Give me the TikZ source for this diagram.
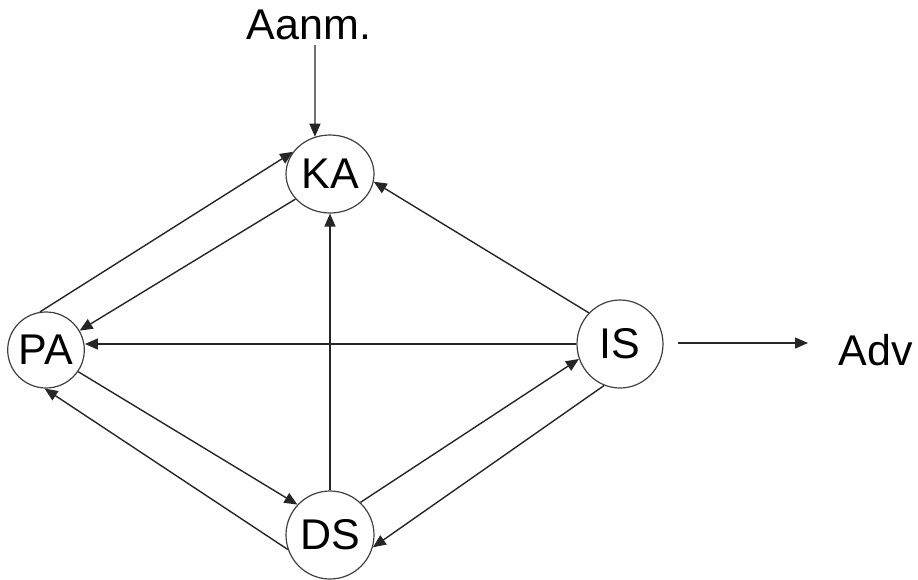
\documentclass[tikz,border=0pt]{standalone}
\usepackage{fontspec}
\setmainfont{Liberation Sans}
\usetikzlibrary{shapes.geometric,arrows.meta}
\begin{document}
\begin{tikzpicture}[x=1pt,y=-1pt,
  state/.style={draw=black!75, line width=1.2pt, ellipse, inner sep=0pt,
                font=\fontsize{43}{50}\selectfont},
  tag/.style={inner sep=0pt, font=\fontsize{43}{50}\selectfont},
  flow/.style={-{Triangle[length=13pt,width=11pt]}, line width=1.4pt, draw=black!85}]
\useasboundingbox (0,0) rectangle (918,579);

% states
\node[state, minimum width=88pt, minimum height=78pt] (KA) at (330,174) {KA};
\node[state, minimum width=74pt, minimum height=76pt] (PA) at (46,350) {PA};
\node[state, minimum width=86pt, minimum height=88pt] (IS) at (620,344) {IS};
\node[state, minimum width=88pt, minimum height=88pt] (DS) at (330,535) {DS};

% external labels
\node[tag] (aanm) at (309,25) {Aanm.};
\node[tag] (adv) at (876,350) {Adv};
\coordinate (in) at (315,45);
\coordinate (out0) at (678,343);
\coordinate (out1) at (808,343);

% transitions
\draw[flow] (in) -- (KA.112);
\draw[flow] (PA.99) -- (KA.149);
\draw[flow] (KA.216) -- (PA.30);
\draw[flow] (IS.west) -- (PA.east |- IS.west);
\draw[flow] (PA.-34) -- (DS.137);
\draw[flow] (DS.199) -- (PA.268);
\draw[flow] (DS.north) -- (KA.south);
\draw[flow] (IS.135) -- (KA.-10);
\draw[flow] (DS.47) -- (IS.200);
\draw[flow] (IS.249) -- (DS.-16);
\draw[flow] (out0) -- (out1);
\end{tikzpicture}
\end{document}
